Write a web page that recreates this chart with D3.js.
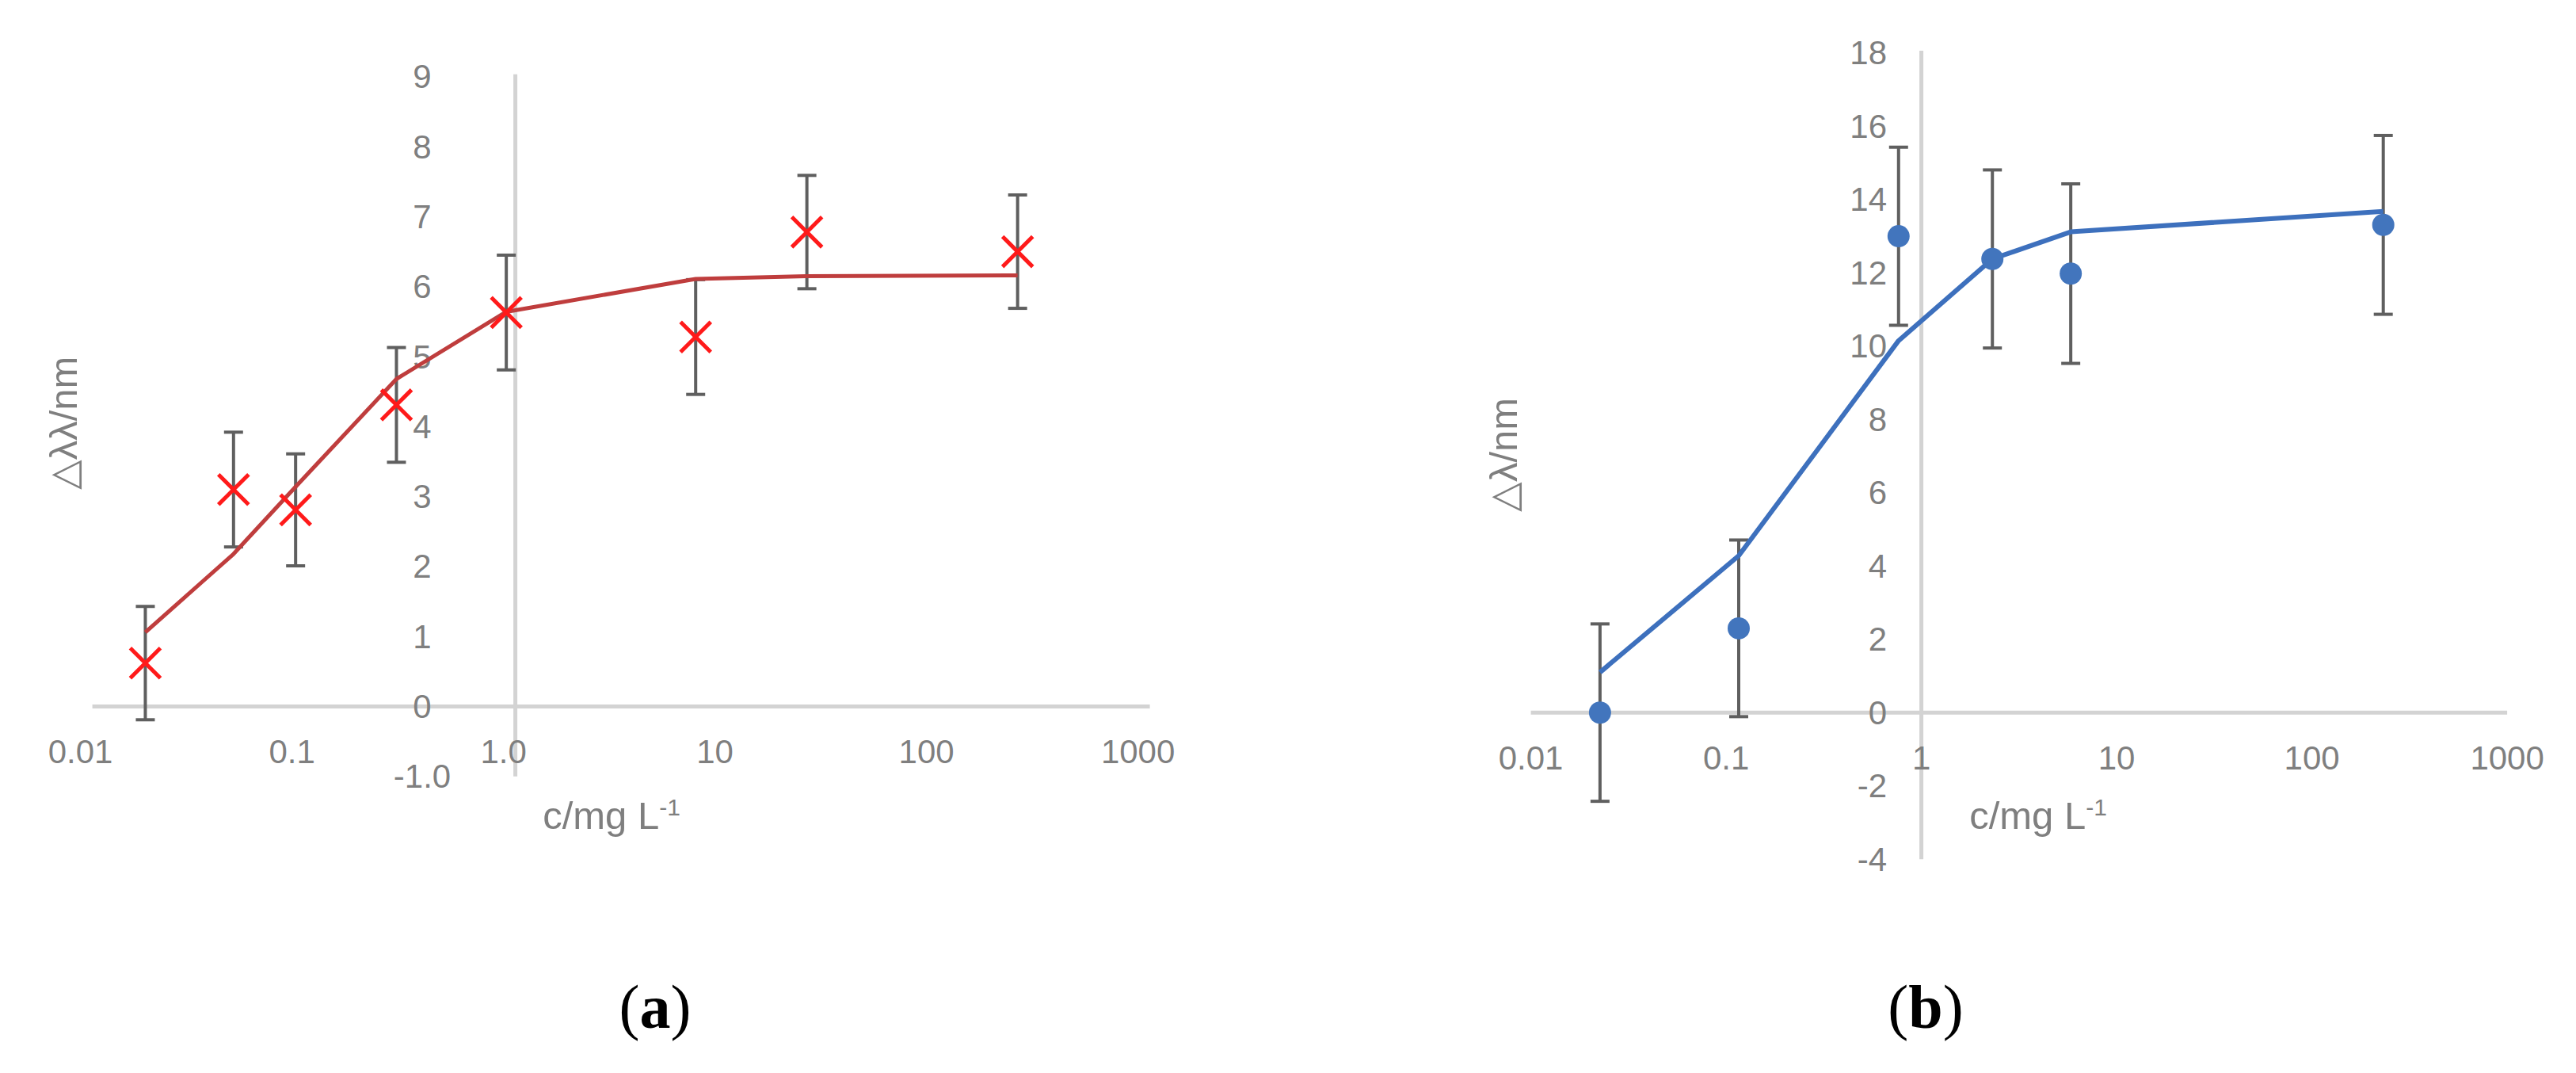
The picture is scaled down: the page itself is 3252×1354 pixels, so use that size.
<!DOCTYPE html>
<html>
<head>
<meta charset="utf-8">
<script src="https://cdn.jsdelivr.net/npm/d3@7/dist/d3.min.js"></script>
<style>
  html, body { margin: 0; padding: 0; background: #fff; }
  svg { display: block; }
  .tick-label { font-family: "Liberation Sans", Arial, sans-serif; font-size: 42px; fill: #7f7f7f; }
  .title { font-family: "Liberation Sans", Arial, sans-serif; font-size: 49px; fill: #7f7f7f; }
  .panel { font-family: "Liberation Serif", "Times New Roman", serif; font-size: 78px; fill: #000; }
</style>
</head>
<body>
<script>
// (a) red crosses, fitted line
var concA = [0.0178, 0.0465, 0.0914, 0.274, 0.906, 7.12, 23.9, 237]
var shiftA = [0.62, 3.10, 2.81, 4.31, 5.63, 5.28, 6.78, 6.50]
var errA = [0.81, 0.82, 0.80, 0.82, 0.82, 0.82, 0.81, 0.81]
var fitA = [1.06, 2.18, 3.14, 4.68, 5.64, 6.11, 6.15, 6.16]

// (b) blue dots, fitted line
var concB = [0.0226, 0.116, 0.764, 2.31, 5.82, 232]
var shiftB = [0.0, 2.30, 13.0, 12.38, 11.98, 13.31]
var errB = [2.42, 2.41, 2.43, 2.43, 2.45, 2.44]
var fitB = [1.10, 4.28, 10.15, 12.38, 13.12, 13.68]

var xTicks = [0.01, 0.1, 1, 10, 100, 1000]
var xTickLabelsA = ['0.01', '0.1', '1.0', '10', '100', '1000']
var xTickLabelsB = ['0.01', '0.1', '1', '10', '100', '1000']
var yTicksA = [-1, 0, 1, 2, 3, 4, 5, 6, 7, 8, 9]
var yTicksB = [-4, -2, 0, 2, 4, 6, 8, 10, 12, 14, 16, 18]

var svg = d3.select('body').append('svg')
    .attr('width', 3252)
    .attr('height', 1354)

svg.append('rect').attr('width', 3252).attr('height', 1354).attr('fill', '#fff')

function drawPanel(opt) {
  var x = d3.scaleLog().domain([0.01, 1000]).range(opt.xRange)
  var y = d3.scaleLinear().domain(opt.yDomain).range(opt.yRange)
  var g = svg.append('g')

  // axes cross at x = 1, y = 0
  g.append('line')
    .attr('x1', x(0.01)).attr('x2', x(1000))
    .attr('y1', y(0)).attr('y2', y(0))
    .attr('stroke', '#d3d3d3').attr('stroke-width', 5)
  g.append('line')
    .attr('x1', x(1)).attr('x2', x(1))
    .attr('y1', y(opt.yDomain[1]) - 3).attr('y2', y(opt.yDomain[0]))
    .attr('stroke', '#d3d3d3').attr('stroke-width', 5)

  // tick labels
  g.selectAll('text.xl')
    .data(xTicks)
    .enter().append('text')
      .attr('class', 'tick-label xl')
      .attr('x', function(d) { return x(d) + opt.xLabelDx })
      .attr('y', y(0) + opt.xLabelDy)
      .attr('text-anchor', 'middle')
      .attr('dominant-baseline', 'central')
      .text(function(d, i) { return opt.xLabels[i] })

  g.selectAll('text.yl')
    .data(opt.yTicks)
    .enter().append('text')
      .attr('class', 'tick-label yl')
      .attr('x', opt.yLabelX)
      .attr('y', function(d) { return y(d) })
      .attr('text-anchor', opt.yLabelAnchor)
      .attr('dominant-baseline', 'central')
      .text(opt.yFormat)

  // error bars
  var eb = g.selectAll('g.err')
    .data(opt.conc)
    .enter().append('g')
      .attr('class', 'err')
  eb.append('line')
    .attr('x1', function(d) { return x(d) }).attr('x2', function(d) { return x(d) })
    .attr('y1', function(d, i) { return y(opt.vals[i] + opt.err[i]) })
    .attr('y2', function(d, i) { return y(opt.vals[i] - opt.err[i]) })
    .attr('stroke', '#5f5f5f').attr('stroke-width', 4)
  eb.append('line')
    .attr('x1', function(d) { return x(d) - 12 }).attr('x2', function(d) { return x(d) + 12 })
    .attr('y1', function(d, i) { return y(opt.vals[i] + opt.err[i]) })
    .attr('y2', function(d, i) { return y(opt.vals[i] + opt.err[i]) })
    .attr('stroke', '#5f5f5f').attr('stroke-width', 4)
  eb.append('line')
    .attr('x1', function(d) { return x(d) - 12 }).attr('x2', function(d) { return x(d) + 12 })
    .attr('y1', function(d, i) { return y(opt.vals[i] - opt.err[i]) })
    .attr('y2', function(d, i) { return y(opt.vals[i] - opt.err[i]) })
    .attr('stroke', '#5f5f5f').attr('stroke-width', 4)

  // fitted line
  var line = d3.line()
    .x(function(d, i) { return x(opt.conc[i]) })
    .y(function(d) { return y(d) })
  g.append('path')
    .datum(opt.fit)
    .attr('d', line)
    .attr('fill', 'none')
    .attr('stroke', opt.lineColor)
    .attr('stroke-width', opt.lineWidth)
    .attr('stroke-linejoin', 'round')

  // markers
  if (opt.marker === 'cross') {
    var sym = d3.symbol().type(d3.symbolX).size(950)
    g.selectAll('path.mk')
      .data(opt.conc)
      .enter().append('path')
        .attr('class', 'mk')
        .attr('d', sym)
        .attr('transform', function(d, i) { return 'translate(' + x(d) + ',' + y(opt.vals[i]) + ')' })
        .attr('fill', 'none')
        .attr('stroke', '#ff1a1a')
        .attr('stroke-width', 5)
  } else {
    g.selectAll('circle.mk')
      .data(opt.conc)
      .enter().append('circle')
        .attr('class', 'mk')
        .attr('cx', function(d) { return x(d) })
        .attr('cy', function(d, i) { return y(opt.vals[i]) })
        .attr('r', 14)
        .attr('fill', '#4275bd')
  }

  // axis titles
  var xt = g.append('text')
    .attr('class', 'title')
    .attr('x', opt.xTitlePos[0])
    .attr('y', opt.xTitlePos[1])
    .attr('text-anchor', 'middle')
  xt.append('tspan').text('c/mg L')
  xt.append('tspan').attr('font-size', 30).attr('dy', -17).text('-1')

  g.append('text')
    .attr('class', 'title')
    .attr('transform', 'translate(' + opt.yTitlePos[0] + ',' + opt.yTitlePos[1] + ') rotate(-90)')
    .attr('text-anchor', 'middle')
    .attr('dominant-baseline', 'central')
    .text(opt.yTitle)

  // panel label
  var pl = svg.append('text')
    .attr('class', 'panel')
    .attr('x', opt.panelX)
    .attr('y', 1297)
    .attr('text-anchor', 'middle')
  pl.append('tspan').text('(')
  pl.append('tspan').attr('font-weight', 'bold').text(opt.panel)
  pl.append('tspan').text(')')
}

drawPanel({
  xRange: [116.6, 1451.6], yDomain: [-1, 9], yRange: [979.8, 96.8],
  conc: concA, vals: shiftA, err: errA, fit: fitA,
  xLabels: xTickLabelsA, xLabelDx: -15, xLabelDy: 57,
  yTicks: yTicksA, yLabelX: 533, yLabelAnchor: 'middle',
  yFormat: function(d) { return d === -1 ? '-1.0' : d },
  lineColor: '#bf3d3d', lineWidth: 5, marker: 'cross',
  xTitlePos: [772, 1046], yTitlePos: [80, 534], yTitle: '\u25B3\u03BB\u03BB/nm',
  panel: 'a', panelX: 827
})

drawPanel({
  xRange: [1932.6, 3165.1], yDomain: [-4, 18], yRange: [1084.2, 66.9],
  conc: concB, vals: shiftB, err: errB, fit: fitB,
  xLabels: xTickLabelsB, xLabelDx: 0, xLabelDy: 57,
  yTicks: yTicksB, yLabelX: 2382, yLabelAnchor: 'end',
  yFormat: function(d) { return d },
  lineColor: '#3d70bd', lineWidth: 6, marker: 'dot',
  xTitlePos: [2573, 1046], yTitlePos: [1898, 574], yTitle: '\u25B3\u03BB/nm',
  panel: 'b', panelX: 2431
})
</script>
</body>
</html>
